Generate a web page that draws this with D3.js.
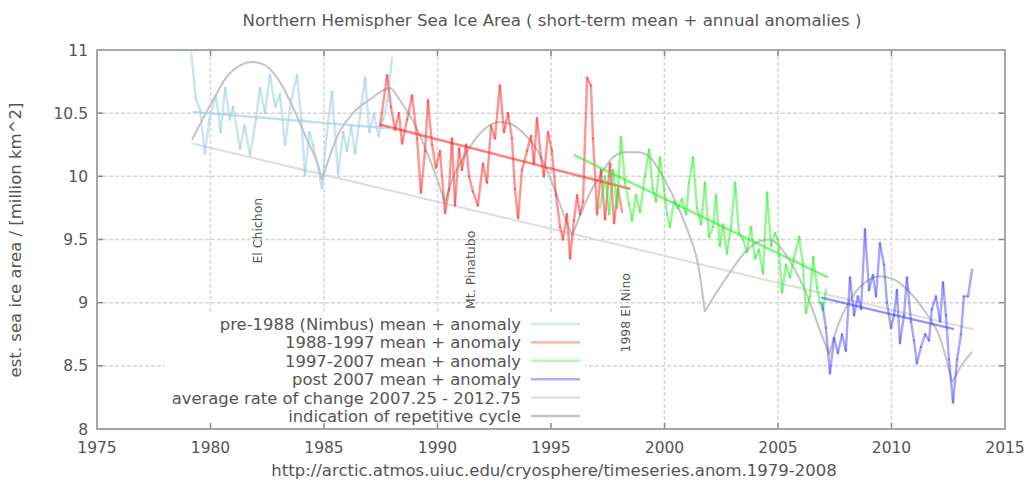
<!DOCTYPE html>
<html>
<head>
<meta charset="utf-8">
<script src="https://cdn.jsdelivr.net/npm/d3@7"></script>
<style>
  body { margin: 0; background: #fff; }
  svg { display: block; }
  text { font-family: "DejaVu Sans", sans-serif; fill: #555; }
</style>
</head>
<body>
<svg id="chart" width="1029" height="483"></svg>
<script>
// ---- axis ticks ----
const xTicks = [1975, 1980, 1985, 1990, 1995, 2000, 2005, 2010, 2015];
const yTicks = [8, 8.5, 9, 9.5, 10, 10.5, 11];
const yTickLabels = ["8", "8.5", "9", "9.5", "10", "10.5", "11"];

// ---- series: [year, area in million km^2] ----
const pre1988 = [
  [1979.15, 10.98], [1979.35, 10.62], [1979.55, 10.52], [1979.75, 10.18], [1979.95, 10.45],
  [1980.24, 10.64], [1980.45, 10.35], [1980.64, 10.70], [1980.85, 10.45], [1980.99, 10.55],
  [1981.30, 10.22], [1981.50, 10.40], [1981.74, 10.17], [1982.00, 10.45], [1982.18, 10.70],
  [1982.40, 10.50], [1982.62, 10.80], [1982.85, 10.55], [1983.06, 10.65], [1983.28, 10.25],
  [1983.55, 10.60], [1983.81, 10.80], [1984.00, 10.45], [1984.16, 10.01], [1984.35, 10.35],
  [1984.52, 10.25], [1984.91, 9.91], [1985.10, 10.30], [1985.35, 10.67], [1985.62, 10.02],
  [1985.85, 10.35], [1986.01, 10.20], [1986.20, 10.40], [1986.37, 10.18], [1986.60, 10.50],
  [1986.81, 10.78], [1987.00, 10.35], [1987.20, 10.50], [1987.40, 10.32], [1987.60, 10.45],
  [1987.80, 10.60], [1988.00, 10.94]
];
const pre1988Mean = [[1979.2, 10.51], [1987.9, 10.38]];

const s1988_1997 = [
  [1987.47, 10.40], [1987.78, 10.80], [1987.95, 10.55], [1988.13, 10.37], [1988.30, 10.50],
  [1988.44, 10.26], [1988.66, 10.45], [1988.88, 10.64], [1989.10, 10.30], [1989.27, 9.87],
  [1989.45, 10.20], [1989.58, 10.60], [1989.76, 10.25], [1989.93, 10.07], [1990.11, 10.20],
  [1990.33, 9.71], [1990.51, 9.90], [1990.64, 10.30], [1990.77, 9.77], [1990.95, 10.22],
  [1991.08, 10.05], [1991.26, 10.25], [1991.39, 10.00], [1991.56, 9.88], [1991.78, 9.77],
  [1992.00, 10.10], [1992.18, 9.95], [1992.36, 10.40], [1992.53, 10.30], [1992.75, 10.72],
  [1992.93, 10.35], [1993.11, 10.50], [1993.28, 10.30], [1993.41, 9.90], [1993.55, 9.67],
  [1993.72, 10.05], [1993.94, 10.20], [1994.12, 10.32], [1994.25, 10.10], [1994.38, 10.46],
  [1994.56, 10.15], [1994.69, 10.00], [1994.87, 10.35], [1995.04, 10.20], [1995.22, 9.85],
  [1995.40, 9.60], [1995.53, 9.50], [1995.70, 9.70], [1995.84, 9.35], [1996.01, 9.65],
  [1996.15, 9.85], [1996.28, 9.70], [1996.41, 9.80], [1996.59, 10.78], [1996.76, 10.72],
  [1996.85, 10.30], [1997.03, 9.70], [1997.20, 10.05], [1997.38, 9.66], [1997.60, 10.10],
  [1997.78, 9.63], [1997.95, 9.90], [1998.13, 9.72]
];
const s1988_1997Mean = [[1987.45, 10.41], [1998.5, 9.90]];

const s1997_2007 = [
  [1997.16, 9.75], [1997.38, 10.00], [1997.56, 9.70], [1997.73, 10.05], [1997.91, 9.75],
  [1998.08, 10.31], [1998.26, 9.95], [1998.44, 9.78], [1998.57, 9.65], [1998.74, 9.85],
  [1998.92, 9.72], [1999.14, 10.00], [1999.32, 10.21], [1999.49, 9.90], [1999.63, 9.80],
  [1999.80, 10.15], [1999.98, 9.90], [2000.11, 9.70], [2000.24, 9.60], [2000.42, 9.80],
  [2000.59, 9.75], [2000.77, 9.82], [2000.95, 9.70], [2001.08, 9.95], [2001.26, 10.15],
  [2001.43, 9.75], [2001.61, 9.62], [2001.78, 9.95], [2001.96, 9.52], [2002.14, 9.60],
  [2002.27, 9.85], [2002.44, 9.45], [2002.58, 9.62], [2002.75, 9.39], [2002.93, 9.60],
  [2003.11, 9.95], [2003.28, 9.55], [2003.46, 9.50], [2003.63, 9.40], [2003.81, 9.60],
  [2003.99, 9.35], [2004.16, 9.42], [2004.34, 9.23], [2004.52, 9.87], [2004.69, 9.45],
  [2004.87, 9.55], [2005.00, 9.50], [2005.18, 9.08], [2005.35, 9.30], [2005.53, 9.20],
  [2005.70, 9.35], [2005.93, 9.52], [2006.10, 9.30], [2006.23, 8.92], [2006.41, 9.05],
  [2006.55, 9.36], [2006.72, 9.12], [2006.85, 9.00], [2006.98, 8.94], [2007.11, 9.10]
];
const s1997_2007Mean = [[1996.0, 10.17], [2007.2, 9.20]];

const post2007 = [
  [2006.94, 9.00], [2007.11, 8.80], [2007.29, 8.44], [2007.47, 8.72], [2007.64, 8.60],
  [2007.82, 8.75], [2007.99, 8.62], [2008.17, 9.20], [2008.35, 8.90], [2008.52, 9.05],
  [2008.66, 8.95], [2008.83, 9.58], [2009.01, 9.10], [2009.18, 9.22], [2009.32, 9.05],
  [2009.49, 9.47], [2009.67, 9.30], [2009.80, 9.00], [2009.98, 8.80], [2010.11, 8.90],
  [2010.24, 9.10], [2010.37, 8.68], [2010.55, 8.90], [2010.68, 9.20], [2010.86, 8.85],
  [2010.99, 8.70], [2011.12, 8.52], [2011.30, 8.65], [2011.48, 8.75], [2011.65, 8.70],
  [2011.78, 8.95], [2011.96, 9.05], [2012.14, 8.85], [2012.27, 9.16], [2012.40, 8.90],
  [2012.53, 8.55], [2012.71, 8.21], [2012.89, 8.55], [2013.06, 8.75], [2013.19, 9.05],
  [2013.37, 9.05], [2013.55, 9.26]
];
const post2007Mean = [[2006.9, 9.04], [2012.75, 8.79]];

// long-run straight decline
const rateLine = [[1979.2, 10.26], [2013.6, 8.79]];

// repeating arcs; troughs split the curve into separate arcs (cusps)
const cyclePoints = [
  [1979.19, 10.29], [1980.07, 10.59], [1980.77, 10.80], [1981.83, 10.905], [1982.40, 10.88],
  [1983.15, 10.72], [1983.72, 10.51], [1984.30, 10.27], [1984.74, 10.09], [1984.91, 9.97],
  [1985.62, 10.33], [1986.23, 10.49], [1987.11, 10.62], [1987.90, 10.70], [1988.35, 10.60],
  [1989.00, 10.41], [1989.58, 10.17], [1990.02, 9.96], [1990.33, 9.79],
  [1990.64, 9.97], [1991.08, 10.13], [1991.65, 10.29], [1992.18, 10.39], [1992.75, 10.43],
  [1993.28, 10.41], [1993.85, 10.33], [1994.38, 10.21], [1994.82, 10.05], [1995.26, 9.85],
  [1995.62, 9.67], [1995.93, 9.53],
  [1996.28, 9.69], [1996.72, 9.87], [1997.25, 10.03], [1997.73, 10.15], [1998.26, 10.19],
  [1998.83, 10.19], [1999.36, 10.15], [1999.89, 10.01], [2000.46, 9.81], [2001.04, 9.56],
  [2001.48, 9.30], [2001.78, 8.93],
  [2002.22, 9.06], [2002.89, 9.24], [2003.55, 9.40], [2004.12, 9.48], [2004.65, 9.50],
  [2005.18, 9.42], [2005.75, 9.26], [2006.32, 9.04], [2006.85, 8.78], [2007.25, 8.59],
  [2007.64, 8.82], [2008.17, 9.02], [2008.83, 9.16], [2009.49, 9.21], [2010.15, 9.18],
  [2010.81, 9.08], [2011.48, 8.93], [2012.14, 8.72], [2012.67, 8.37],
  [2013.11, 8.51], [2013.55, 8.61]
];
const cycleTroughs = [1984.91, 1990.33, 1995.93, 2001.78, 2007.25, 2012.67];

// event labels: [text, year, value at label centre]
const events = [
  ["El Chichon", 1982.05, 9.57],
  ["Mt. Pinatubo", 1991.45, 9.26],
  ["1998 El Nino", 1998.3, 8.92]
];

const legendLabels = [
  "pre-1988 (Nimbus) mean + anomaly",
  "1988-1997  mean + anomaly",
  "1997-2007  mean + anomaly",
  "post 2007   mean + anomaly",
  "average rate of change 2007.25 - 2012.75",
  "indication of repetitive cycle"
];

// ---- layout ----
const M = { left: 97, right: 1005, top: 50, bottom: 429 };
const svg = d3.select("#chart");

const x = d3.scaleLinear().domain([1975, 2015]).range([M.left, M.right]);
const y = d3.scaleLinear().domain([8, 11]).range([M.bottom, M.top]);

const colors = {
  pre: "#9fd0e3",
  red: "#ff2a2a",
  green: "#2bef2b",
  blue: "#3a3aff",
  rate: "#dedede",
  cycle: "#c4c4c4"
};

svg.append("clipPath").attr("id", "plotClip")
  .append("rect").attr("x", M.left).attr("y", M.top)
  .attr("width", M.right - M.left).attr("height", M.bottom - M.top);

// ---- grid ----
const grid = svg.append("g");
grid.selectAll("line.gy").data(yTicks.filter(v => v > 8 && v < 11)).join("line")
  .attr("x1", M.left).attr("x2", M.right)
  .attr("y1", d => y(d)).attr("y2", d => y(d))
  .attr("stroke", "#d6d6d6").attr("stroke-width", 1.5).attr("stroke-dasharray", "4,2");
grid.selectAll("line.gx").data(xTicks.filter(v => v > 1975 && v < 2015)).join("line")
  .attr("x1", d => x(d)).attr("x2", d => x(d))
  .attr("y1", M.top).attr("y2", M.bottom)
  .attr("stroke", "#d6d6d6").attr("stroke-width", 1.5).attr("stroke-dasharray", "4,2");

const plot = svg.append("g").attr("clip-path", "url(#plotClip)");
const line = d3.line().x(d => x(d[0])).y(d => y(d[1]));

// straight decline
plot.append("path").datum(rateLine).attr("d", line)
  .attr("fill", "none").attr("stroke", colors.rate).attr("stroke-width", 2);

// cycle arcs
const arcs = [];
let cur = [];
cyclePoints.forEach(p => {
  cur.push(p);
  if (cycleTroughs.includes(p[0])) { arcs.push(cur); cur = [p]; }
});
if (cur.length > 1) arcs.push(cur);
const smooth = d3.line().x(d => x(d[0])).y(d => y(d[1])).curve(d3.curveMonotoneX);
plot.selectAll("path.arc").data(arcs).join("path")
  .attr("d", smooth).attr("fill", "none")
  .attr("stroke", colors.cycle).attr("stroke-width", 2);

// data series: each segment stroked separately so crossings deepen the colour
const series = [
  { data: pre1988, mean: pre1988Mean, color: colors.pre, op: 0.55 },
  { data: s1988_1997, mean: s1988_1997Mean, color: colors.red, op: 0.5 },
  { data: s1997_2007, mean: s1997_2007Mean, color: colors.green, op: 0.5 },
  { data: post2007, mean: post2007Mean, color: colors.blue, op: 0.45 }
];
series.forEach(s => {
  const segs = d3.pairs(s.data);
  plot.append("g").selectAll("line").data(segs).join("line")
    .attr("x1", d => x(d[0][0])).attr("y1", d => y(d[0][1]))
    .attr("x2", d => x(d[1][0])).attr("y2", d => y(d[1][1]))
    .attr("stroke", s.color).attr("stroke-opacity", s.op)
    .attr("stroke-width", 2.4).attr("stroke-linecap", "round");
  plot.append("path").datum(s.mean).attr("d", line)
    .attr("fill", "none").attr("stroke", s.color)
    .attr("stroke-opacity", s.op + 0.1).attr("stroke-width", 2.4);
});

// event labels (rotated)
svg.selectAll("text.event").data(events).join("text")
  .attr("transform", d => `translate(${x(d[1]) + 4.5},${y(d[2])}) rotate(-90)`)
  .attr("text-anchor", "middle").attr("font-size", 12.5).attr("fill", "#555")
  .text(d => d[0]);

// ---- legend (opaque box) ----
const lg = svg.append("g");
lg.append("rect").attr("x", 165).attr("y", 314).attr("width", 420).attr("height", 112).attr("fill", "#fff");
const legendColors = [colors.pre, colors.red, colors.green, colors.blue, colors.rate, colors.cycle];
const legendOps = [0.45, 0.4, 0.35, 0.4, 1, 1];
legendLabels.forEach((t, i) => {
  const cy = 324 + i * 18.4;
  lg.append("text").attr("x", 521).attr("y", cy + 6)
    .attr("text-anchor", "end").attr("font-size", 16.4).text(t);
  lg.append("line").attr("x1", 531).attr("x2", 580).attr("y1", cy).attr("y2", cy)
    .attr("stroke", legendColors[i]).attr("stroke-opacity", legendOps[i]).attr("stroke-width", 2.4);
});

// ---- border and ticks ----
const axes = svg.append("g");
const tickLen = 6;
const tickStyle = sel => sel.attr("stroke", "#888").attr("stroke-width", 1.5);
axes.append("g").selectAll("line").data(xTicks).join("line")
  .attr("x1", d => x(d)).attr("x2", d => x(d)).attr("y1", M.bottom).attr("y2", M.bottom - tickLen)
  .call(tickStyle);
axes.append("g").selectAll("line").data(xTicks).join("line")
  .attr("x1", d => x(d)).attr("x2", d => x(d)).attr("y1", M.top).attr("y2", M.top + tickLen)
  .call(tickStyle);
axes.append("g").selectAll("line").data(yTicks).join("line")
  .attr("x1", M.left).attr("x2", M.left + tickLen).attr("y1", d => y(d)).attr("y2", d => y(d))
  .call(tickStyle);
axes.append("g").selectAll("line").data(yTicks).join("line")
  .attr("x1", M.right).attr("x2", M.right - tickLen).attr("y1", d => y(d)).attr("y2", d => y(d))
  .call(tickStyle);
axes.append("rect").attr("x", M.left).attr("y", M.top)
  .attr("width", M.right - M.left).attr("height", M.bottom - M.top)
  .attr("fill", "none").attr("stroke", "#a6a6a6").attr("stroke-width", 2);

// tick labels
axes.append("g").selectAll("text").data(xTicks).join("text")
  .attr("x", d => x(d)).attr("y", M.bottom + 24)
  .attr("text-anchor", "middle").attr("font-size", 15.5).text(d => d);
axes.append("g").selectAll("text").data(yTicks).join("text")
  .attr("x", M.left - 9).attr("y", d => y(d) + 5.5)
  .attr("text-anchor", "end").attr("font-size", 15.5).text((d, i) => yTickLabels[i]);

// titles
svg.append("text").attr("x", 552).attr("y", 26).attr("text-anchor", "middle")
  .attr("font-size", 16.6).text("Northern Hemispher Sea Ice Area ( short-term mean + annual anomalies )");
svg.append("text").attr("x", 554).attr("y", 476).attr("text-anchor", "middle")
  .attr("font-size", 16.5).text("http://arctic.atmos.uiuc.edu/cryosphere/timeseries.anom.1979-2008");
svg.append("text").attr("transform", "translate(21,240) rotate(-90)")
  .attr("text-anchor", "middle").attr("font-size", 16.5)
  .text("est. sea ice area  /  [million km^2]");
</script>
</body>
</html>
